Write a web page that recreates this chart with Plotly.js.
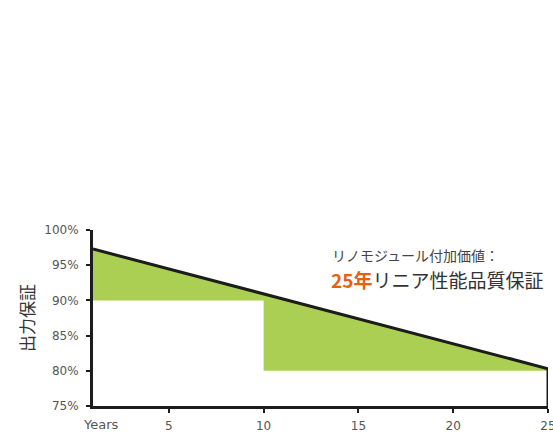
<!DOCTYPE html>
<html>
<head>
<meta charset="utf-8">
<script src="https://cdn.plot.ly/plotly-3.0.1.min.js"></script>
<style>html,body{margin:0;padding:0;background:#fff;}#chart{width:553px;height:435px;}</style>
</head>
<body>
<div id="chart"></div>
<script>
// Data
var lineYears = [1, 25];
var lineOutput = [97.3, 80.3];
var stepYears = [1, 10, 10, 25];
var stepLevels = [90, 90, 80, 80];
var xTickVals = [5, 10, 15, 20, 25];
var xStartLabel = 'Years';
var yTickVals = [75, 80, 85, 90, 95, 100];
var yTickText = ['75%', '80%', '85%', '90%', '95%', '100%'];

// Filled polygon: along the warranty line, then back along the step floor
var polyX = lineYears.concat(stepYears.slice().reverse());
var polyY = lineOutput.concat(stepLevels.slice().reverse());

var traces = [
  {x: polyX, y: polyY, mode: 'lines', fill: 'toself', fillcolor: '#aacf52',
   line: {width: 0, color: 'rgba(0,0,0,0)'}, hoverinfo: 'skip', showlegend: false},
  {x: lineYears, y: lineOutput, mode: 'lines', line: {color: '#1c1c1c', width: 3},
   showlegend: false, cliponaxis: false},
  {x: [lineYears[1], lineYears[1]], y: [lineOutput[1], yTickVals[0]], mode: 'lines',
   line: {color: '#1c1c1c', width: 3}, showlegend: false, cliponaxis: false}
];

var tickFont = {family: 'DejaVu Sans, sans-serif', size: 12, color: '#555'};
var layout = {
  width: 553, height: 435,
  margin: {l: 93, r: 5, t: 230, b: 29},
  paper_bgcolor: '#fff', plot_bgcolor: '#fff',
  xaxis: {range: [1, 25], tickvals: xTickVals, ticks: 'outside', ticklen: 4, tickwidth: 2,
          tickcolor: '#1c1c1c', showline: true, linecolor: '#1c1c1c', linewidth: 3,
          showgrid: false, zeroline: false, tickfont: tickFont, fixedrange: true,
          ticklabelstandoff: 3, ticklabeloverflow: 'allow'},
  yaxis: {range: [75, 100], tickvals: yTickVals, ticktext: yTickText, ticks: 'outside',
          ticklen: 4, tickwidth: 2, tickcolor: '#1c1c1c', showline: true, linecolor: '#1c1c1c',
          linewidth: 3, showgrid: false, zeroline: false, tickfont: tickFont,
          ticklabelstandoff: 5,
          title: {text: '出力保証', font: {family: 'Noto Sans CJK JP', size: 17, color: '#333'}, standoff: 6},
          fixedrange: true},
  annotations: [
    {x: lineYears[0], y: 0, xref: 'x', yref: 'paper', text: xStartLabel, showarrow: false,
     xanchor: 'center', yanchor: 'top', xshift: 8, yshift: -9,
     font: {family: 'DejaVu Sans, sans-serif', size: 13, color: '#555'}},
    {x: 330, y: 255, xref: 'paper', yref: 'paper', text: 'リノモジュール付加価値：', showarrow: false,
     xanchor: 'left', yanchor: 'middle',
     font: {family: 'Noto Sans CJK JP', size: 14, color: '#444'}},
    {x: 329, y: 279, xref: 'paper', yref: 'paper',
     text: '<span style="color:#e8600f;font-weight:bold">25年</span>リニア性能品質保証', showarrow: false,
     xanchor: 'left', yanchor: 'middle',
     font: {family: 'Noto Sans CJK JP', size: 19, color: '#333'}}
  ],
  showlegend: false
};

// convert pixel positions of the text annotations to paper coords
var plotW = 553 - 93 - 5, plotH = 435 - 230 - 29;
layout.annotations.slice(1).forEach(function(a){
  a.x = (a.x - 93) / plotW;
  a.y = (435 - 29 - a.y) / plotH;
});

Plotly.newPlot('chart', traces, layout, {displayModeBar: false, staticPlot: true});
</script>
</body>
</html>
